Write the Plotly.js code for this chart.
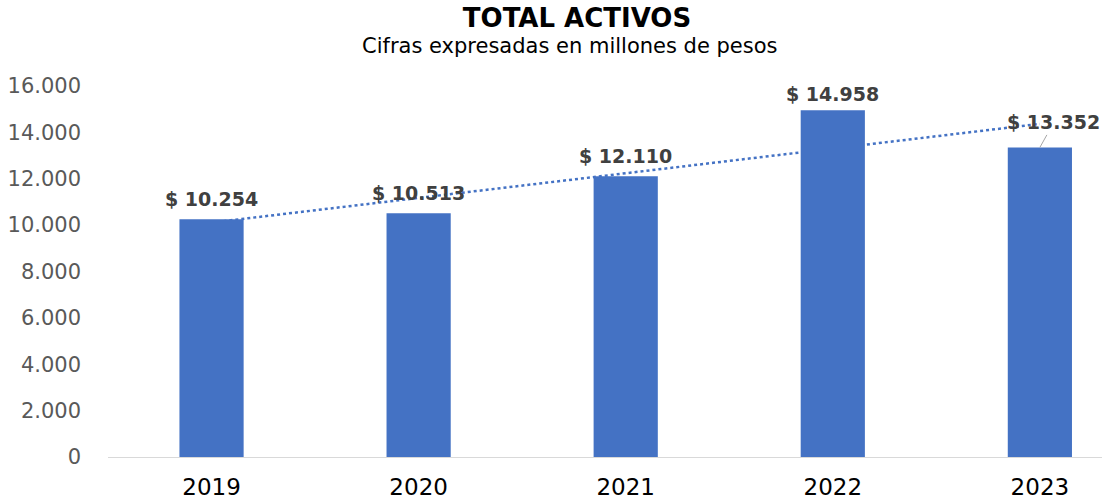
<!DOCTYPE html>
<html>
<head>
<meta charset="utf-8">
<script src="https://cdn.plot.ly/plotly-3.0.1.min.js"></script>
<style>html,body{margin:0;padding:0;background:#fff;}#chart{width:1102px;height:502px;}</style>
</head>
<body>
<div id="chart"></div>
<script>
const years = ['2019', '2020', '2021', '2022', '2023'];
const totalActivos = [10254, 10513, 12110, 14958, 13352];
const yTickVals = [0, 2000, 4000, 6000, 8000, 10000, 12000, 14000, 16000];
const titleText = 'TOTAL ACTIVOS';
const subtitleText = 'Cifras expresadas en millones de pesos';

function fmt(v) {
  return String(v).replace(/\B(?=(\d{3})+(?!\d))/g, '.');
}

// linear trendline (least squares) over category index
const n = totalActivos.length;
const xs = totalActivos.map((_, i) => i);
const mx = xs.reduce((a, b) => a + b, 0) / n;
const my = totalActivos.reduce((a, b) => a + b, 0) / n;
let num = 0, den = 0;
for (let i = 0; i < n; i++) { num += (xs[i] - mx) * (totalActivos[i] - my); den += (xs[i] - mx) * (xs[i] - mx); }
const slope = num / den;
const intercept = my - slope * mx;
const trendStart = intercept;
const trendEnd = intercept + slope * (n - 1);

const font = 'DejaVu Sans, sans-serif';

const bar = {
  type: 'bar',
  x: years,
  y: totalActivos,
  width: 0.31,
  marker: { color: '#4472C4', line: { width: 0 } },
  hoverinfo: 'x+y'
};

const annotations = years.map((yr, i) => {
  const last = i === n - 1;
  const a = {
    x: i, y: totalActivos[i], xref: 'x', yref: 'y',
    text: '<b>$ ' + fmt(totalActivos[i]) + '</b>',
    font: { family: font, size: 19, color: '#404040' },
    showarrow: false,
    xanchor: 'center', yanchor: 'middle',
    yshift: (i === 3) ? 16 : 20
  };
  if (last) {
    a.showarrow = true;
    a.arrowhead = 0;
    a.arrowwidth = 1;
    a.arrowcolor = '#A6A6A6';
    a.ax = 14;
    a.ay = -25;
    a.standoff = 0;
    a.yshift = 0;
  }
  return a;
});

annotations.push({
  xref: 'paper', yref: 'paper',
  x: (570 - 108) / 994, y: 1 + (86 - 46) / 371.5,
  text: subtitleText, showarrow: false,
  xanchor: 'center', yanchor: 'middle',
  font: { family: font, size: 21, color: '#000000' }
});

const layout = {
  width: 1102, height: 502,
  margin: { l: 108, r: 0, t: 86, b: 44.5, pad: 0 },
  paper_bgcolor: '#ffffff', plot_bgcolor: '#ffffff',
  separators: ',.',
  showlegend: false,
  title: {
    text: '<b>' + titleText + '</b>',
    font: { family: font, size: 26, color: '#000000' },
    x: 577 / 1102, xanchor: 'center', xref: 'container',
    y: 1 - 18 / 502, yanchor: 'middle', yref: 'container'
  },
  xaxis: {
    type: 'category',
    range: [-0.5, 4.3],
    showgrid: false, zeroline: false,
    showline: true, linecolor: '#D9D9D9', linewidth: 1,
    ticks: '', ticklabelstandoff: 9,
    tickfont: { family: font, size: 23, color: '#000000' },
    fixedrange: true
  },
  yaxis: {
    range: [0, 16000],
    tickvals: yTickVals,
    ticktext: yTickVals.map(fmt),
    showgrid: false, zeroline: false, showline: false,
    ticks: '', ticklabelstandoff: 26,
    tickfont: { family: font, size: 21, color: '#595959' },
    fixedrange: true
  },
  shapes: [{
    type: 'line', layer: 'below',
    xref: 'x', yref: 'y',
    x0: 0, x1: n - 1,
    y0: trendStart, y1: trendEnd,
    line: { color: '#4472C4', width: 2.5, dash: 'dot' }
  }],
  annotations: annotations
};

Plotly.newPlot('chart', [bar], layout, { displayModeBar: false, staticPlot: true });
</script>
</body>
</html>
